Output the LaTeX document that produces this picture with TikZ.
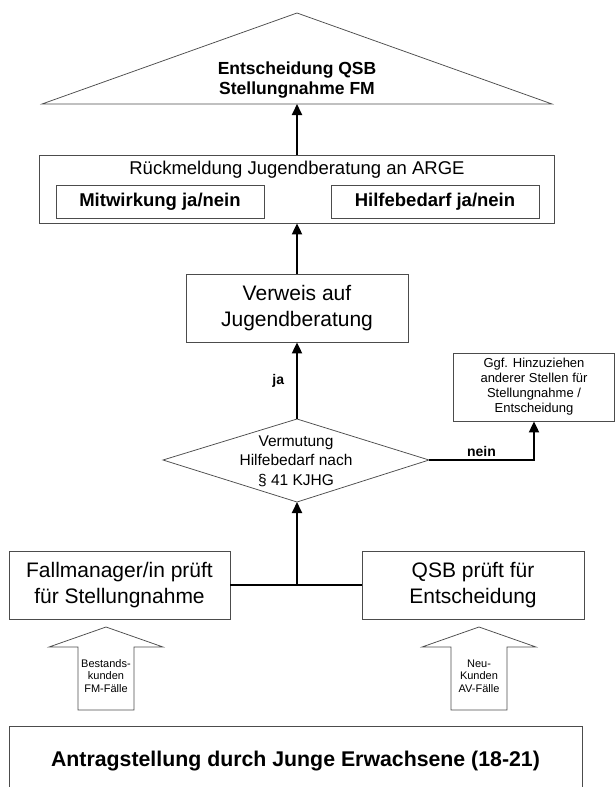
\documentclass[tikz,border=0pt]{standalone}
\usepackage{fontspec}
\setmainfont{Liberation Sans}
\usetikzlibrary{arrows.meta}

\tikzset{
  rand/.style={draw=black!70, line width=0.75pt},
  kasten/.style={rand, align=center, inner sep=0pt},
  pfeil/.style={-{Triangle[length=11pt,width=10pt]}, line width=1.8pt},
  gross/.style={font=\fontsize{21}{25.5}\selectfont}
}

\begin{document}
\begin{tikzpicture}[x=1pt, y=-1pt]
        \useasboundingbox (0,0) rectangle (615,787);
        \clip (0,0) rectangle (615,787);

        % Entscheidung (Dreieck)
        \draw[rand] (42,104) -- (297,13) -- (552,104) -- cycle;
        \coordinate (tbasis) at (297,104);
        \node[font=\bfseries\fontsize{17.5}{19.5}\selectfont, align=center] (entsch) at (297,80) {Entscheidung QSB\\Stellungnahme FM};

        % Rueckmeldung an ARGE
        \node[kasten, minimum width=515, minimum height=68] (rueck) at (297,189) {};
        \node[font=\fontsize{18.5}{20}\selectfont] (rtitel) at (297,170) {Rückmeldung Jugendberatung an ARGE};
        \node[kasten, font=\bfseries\fontsize{18.5}{20}\selectfont, minimum width=208, minimum height=33] (mitw) at (160,201.5) {Mitwirkung ja/nein};
        \node[kasten, font=\bfseries\fontsize{18.5}{20}\selectfont, minimum width=208, minimum height=33] (hilfe) at (435,201.5) {Hilfebedarf ja/nein};

        % Verweis
        \node[kasten, gross, minimum width=222, minimum height=68] (verweis) at (297,308) {Verweis auf\\Jugendberatung};

        % Vermutung (Raute)
        \coordinate (doben) at (297,419);
        \coordinate (dunten) at (297,502);
        \coordinate (dlinks) at (163,460);
        \coordinate (drechts) at (429,460);
        \draw[rand] (doben) -- (drechts) -- (dunten) -- (dlinks) -- cycle;
        \node[font=\fontsize{15.5}{19.5}\selectfont, align=center] (verm) at (296,461) {Vermutung\\Hilfebedarf nach\\§ 41 KJHG};

        % andere Stellen
        \node[kasten, font=\fontsize{13}{15}\selectfont, minimum width=161, minimum height=68] (ggf) at (534,387) {Ggf. Hinzuziehen\\anderer Stellen für\\Stellungnahme /\\Entscheidung};

        % Pruefung
        \node[kasten, gross, minimum width=221, minimum height=68] (fall) at (119.5,585) {Fallmanager/in prüft\\für Stellungnahme};
        \node[kasten, gross, minimum width=222, minimum height=68] (qsb) at (473,585) {QSB prüft für\\Entscheidung};

        % Zugaenge (Blockpfeile)
        \foreach \xm/\name/\txt in {106/bestand/{Bestands-\\kunden\\FM-Fälle},479/neu/{Neu-\\Kunden\\AV-Fälle}} {
          \draw[rand] (\xm,627) -- (\xm+57,647) -- (\xm+28,647) -- (\xm+28,710) -- (\xm-28,710) -- (\xm-28,647) -- (\xm-57,647) -- cycle;
          \node[font=\fontsize{11}{12.5}\selectfont, align=center] (\name) at (\xm,676) {\txt};
        }

        % Antragstellung
        \node[kasten, font=\bfseries\fontsize{21.3}{25}\selectfont, minimum width=573, minimum height=70] (antrag) at (295.5,761) {Antragstellung durch Junge Erwachsene (18-21)};

        % Pfeile
        \draw[pfeil] (rueck.north) -- (tbasis);
        \draw[pfeil] (verweis.north) -- (rueck.south);
        \draw[pfeil] (doben) -- node[left, inner sep=0pt, xshift=-12pt, font=\bfseries\fontsize{14}{16}\selectfont] {ja} (doben |- verweis.south);
        \draw[pfeil] (drechts) -| node[above, pos=0.25, inner sep=2pt, font=\bfseries\fontsize{14}{16}\selectfont] {nein} (ggf.south);
        \draw[line width=1.8pt] (fall.east) -- (qsb.west);
        \coordinate (knoten) at (fall.east -| dunten);
        \draw[pfeil] (knoten) -- (dunten);
      \end{tikzpicture}
\end{document}
